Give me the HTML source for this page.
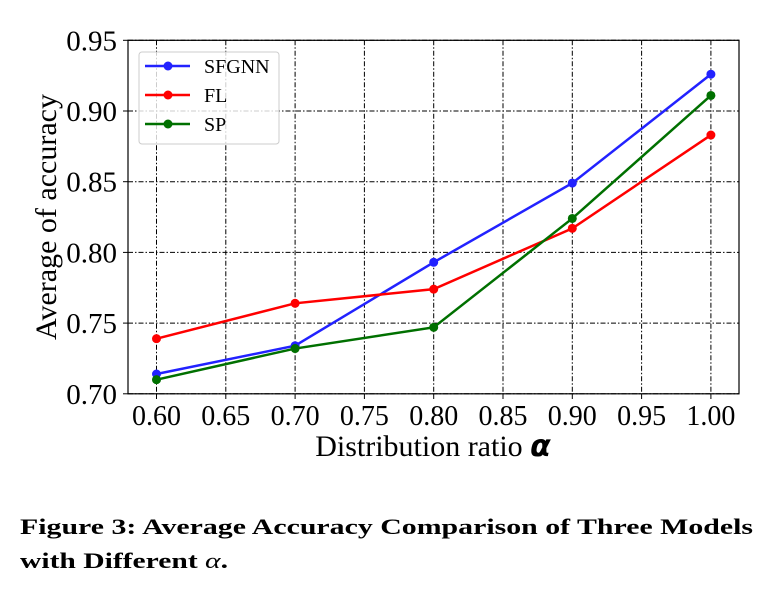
<!DOCTYPE html>
<html><head><meta charset="utf-8"><style>
body{margin:0;background:#fff;width:772px;height:596px;overflow:hidden}
svg{display:block}
text{font-family:"Liberation Serif",serif;fill:#000}
</style></head><body>
<svg width="772" height="596">
<g id="grid"></g>
<g id="series"></g>
<rect x="128" y="40.3" width="611" height="353.5" fill="none" stroke="#000" stroke-width="1.2"/>
<g id="ticks"></g>
<text x="433" y="456" font-size="30" text-anchor="middle">Distribution ratio <tspan font-family="DejaVu Sans" font-weight="bold" font-style="italic">α</tspan></text>
<text transform="translate(56,217) rotate(-90)" font-size="30" text-anchor="middle">Average of accuracy</text>
<g>
<rect x="139" y="52" width="140" height="92" rx="3" fill="#fff" fill-opacity="0.8" stroke="#ccc"/>
<g><line x1="145" y1="66" x2="190" y2="66" stroke="#2222ff" stroke-width="2.5"/><circle cx="168" cy="66" r="4.5" fill="#2222ff"/><text x="204" y="73" font-size="20">SFGNN</text></g>
<g><line x1="145" y1="95" x2="190" y2="95" stroke="#ff0000" stroke-width="2.5"/><circle cx="168" cy="95" r="4.5" fill="#ff0000"/><text x="204" y="102" font-size="20">FL</text></g>
<g><line x1="145" y1="124" x2="190" y2="124" stroke="#007000" stroke-width="2.5"/><circle cx="168" cy="124" r="4.5" fill="#007000"/><text x="204" y="131" font-size="20">SP</text></g>
</g>
<text x="20" y="534" font-size="22" font-weight="bold" textLength="733" lengthAdjust="spacingAndGlyphs">Figure 3: Average Accuracy Comparison of Three Models</text>
<text x="20" y="568" font-size="22" font-weight="bold" textLength="208" lengthAdjust="spacingAndGlyphs">with Different <tspan font-style="italic" font-weight="normal">α</tspan>.</text>
</svg>
<script>
const categories=[0.60,0.70,0.80,0.90,1.00];
const sfgnn=[0.714,0.734,0.793,0.849,0.926];
const fl=[0.739,0.764,0.774,0.817,0.883];
const sp=[0.710,0.732,0.747,0.824,0.911];
const xTicks=["0.60","0.65","0.70","0.75","0.80","0.85","0.90","0.95","1.00"];
const yTicks=["0.70","0.75","0.80","0.85","0.90","0.95"];
const NS="http://www.w3.org/2000/svg";
function X(v){return 156.5+(v-0.6)/0.05*69.3;}
function Y(v){return 393.8-(v-0.7)/0.05*70.7;}
function mk(t,a,p){const e=document.createElementNS(NS,t);for(const k in a)e.setAttribute(k,a[k]);p.appendChild(e);return e;}
const grid=document.getElementById('grid'),ticks=document.getElementById('ticks'),ser=document.getElementById('series');
xTicks.forEach(t=>{const x=X(parseFloat(t));
const g=mk('line',{x1:x,x2:x,y1:40.3,y2:393.8,stroke:'#000','stroke-width':1,'stroke-dasharray':'5,2,1.5,2'},grid);


mk('line',{x1:x,x2:x,y1:393.8,y2:399,stroke:'#000','stroke-width':1},ticks);
const tx=mk('text',{x:x,y:425,'font-size':28,'text-anchor':'middle'},ticks);tx.textContent=t;

});
yTicks.forEach(t=>{const y=Y(parseFloat(t));
const g=mk('line',{x1:128,x2:739,y1:y,y2:y,stroke:'#000','stroke-width':1,'stroke-dasharray':'5,2,1.5,2'},grid);


mk('line',{x1:123,x2:128,y1:y,y2:y,stroke:'#000','stroke-width':1},ticks);
const tx=mk('text',{x:117,y:y+10,'font-size':29,'text-anchor':'end'},ticks);tx.textContent=t;

});
[[sfgnn,'#2222ff','sfgnn'],[fl,'#ff0000','fl'],[sp,'#007000','sp']].forEach(([d,c,n])=>{
const pl=mk('polyline',{points:d.map((v,i)=>X(categories[i])+','+Y(v)).join(' '),fill:'none',stroke:c,'stroke-width':2.5},ser);


d.forEach((v,i)=>{const p=mk('circle',{cx:X(categories[i]),cy:Y(v),r:4.5,fill:c},ser);

});});
</script>
</body></html>
